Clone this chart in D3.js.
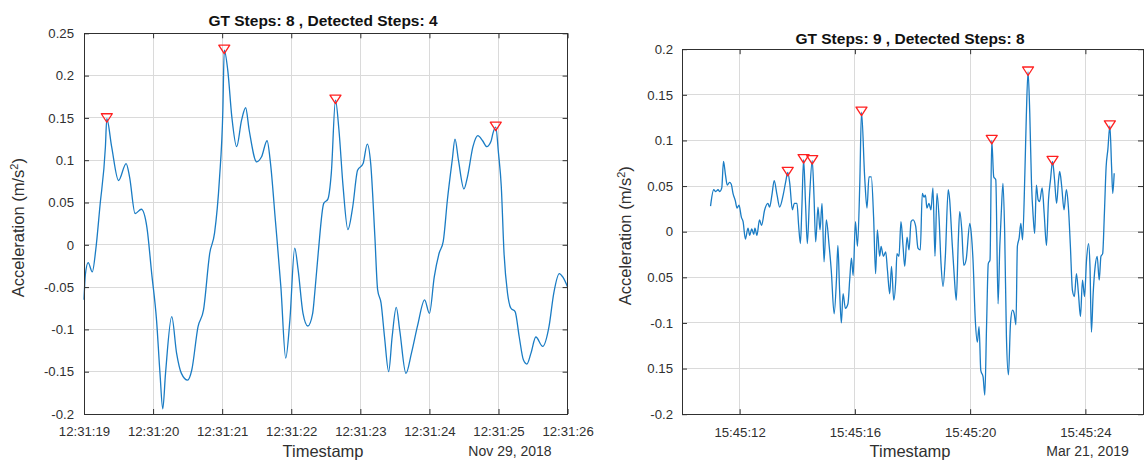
<!DOCTYPE html>
<html>
<head>
<meta charset="utf-8">
<script src="https://cdn.jsdelivr.net/npm/d3@7"></script>
<style>
  html, body { margin: 0; padding: 0; background: #ffffff; }
  svg { display: block; }
  text { font-family: "Liberation Sans", Arial, Helvetica, sans-serif; }
</style>
</head>
<body>
<svg id="chart" width="1144" height="461"></svg>
<script>
// ---- Walk 1 (Nov 29, 2018, 12:31:xx) : seconds within the minute, acceleration ----
const leftSeconds = [
  19.00, 19.02, 19.06, 19.12, 19.17, 19.23, 19.31, 19.33, 19.40, 19.50,
  19.61, 19.66, 19.74, 19.83, 19.91, 19.98, 20.05, 20.10, 20.14, 20.18,
  20.27, 20.34, 20.41, 20.50, 20.56, 20.65, 20.73, 20.82, 20.89, 20.96,
  21.01, 21.03, 21.08, 21.14, 21.21, 21.28, 21.34, 21.39, 21.50, 21.57,
  21.65, 21.70, 21.77, 21.85, 21.92, 21.98, 22.05, 22.10, 22.17, 22.24,
  22.31, 22.34, 22.39, 22.47, 22.53, 22.58, 22.64, 22.69, 22.75, 22.82,
  22.89, 22.96, 23.04, 23.10, 23.15, 23.21, 23.25, 23.30, 23.35, 23.41,
  23.46, 23.52, 23.57, 23.66, 23.74, 23.83, 23.93, 24.00, 24.07, 24.14,
  24.20, 24.26, 24.33, 24.37, 24.42, 24.50, 24.55, 24.63, 24.70, 24.77,
  24.83, 24.89, 24.92, 24.96, 25.00, 25.04, 25.08, 25.13, 25.18, 25.24,
  25.30, 25.36, 25.41, 25.47, 25.54, 25.64, 25.73, 25.80, 25.88, 25.93,
  26.00
];
const leftAccel = [
  -0.065, -0.035, -0.021, -0.032, -0.006, 0.045, 0.116, 0.149, 0.116, 0.076,
  0.096, 0.080, 0.037, 0.042, 0.021, -0.034, -0.089, -0.152, -0.194, -0.152,
  -0.085, -0.128, -0.152, -0.160, -0.148, -0.097, -0.077, -0.010, 0.014, 0.077,
  0.159, 0.230, 0.207, 0.151, 0.116, 0.147, 0.162, 0.136, 0.098, 0.104,
  0.123, 0.096, 0.029, -0.050, -0.134, -0.089, -0.004, -0.030, -0.081, -0.096,
  -0.081, -0.057, -0.010, 0.049, 0.054, 0.085, 0.171, 0.136, 0.069, 0.018,
  0.045, 0.088, 0.096, 0.119, 0.096, 0.010, -0.053, -0.069, -0.109, -0.150,
  -0.109, -0.074, -0.101, -0.152, -0.128, -0.095, -0.065, -0.081, -0.038, -0.010,
  0.004, 0.053, 0.100, 0.125, 0.100, 0.066, 0.080, 0.116, 0.129, 0.123,
  0.116, 0.122, 0.132, 0.139, 0.108, 0.069, -0.010, -0.057, -0.075, -0.079,
  -0.109, -0.136, -0.141, -0.128, -0.109, -0.120, -0.097, -0.057, -0.034, -0.038,
  -0.050
];
const leftPeakSeconds = [19.33, 21.03, 22.64, 24.96];

const leftTimeTicks  = [19, 20, 21, 22, 23, 24, 25, 26];
const leftTimeLabels = ["12:31:19", "12:31:20", "12:31:21", "12:31:22", "12:31:23", "12:31:24", "12:31:25", "12:31:26"];
const leftAccelTicks  = [0.25, 0.2, 0.15, 0.1, 0.05, 0, -0.05, -0.1, -0.15, -0.2];
const leftAccelLabels = ["0.25", "0.2", "0.15", "0.1", "0.05", "0", "-0.05", "-0.1", "-0.15", "-0.2"];

// ---- Walk 2 (Mar 21, 2019, 15:45:xx) ----
const rightSeconds = [
  10.99, 11.10, 11.17, 11.25, 11.31, 11.38, 11.44, 11.51, 11.57, 11.65,
  11.71, 11.77, 11.85, 11.91, 11.98, 12.06, 12.12, 12.20, 12.29, 12.35,
  12.42, 12.49, 12.53, 12.60, 12.69, 12.76, 12.87, 12.98, 13.04, 13.12,
  13.20, 13.30, 13.39, 13.51, 13.60, 13.67, 13.74, 13.83, 13.90, 13.99,
  14.05, 14.11, 14.16, 14.22, 14.29, 14.35, 14.43, 14.52, 14.58, 14.64,
  14.72, 14.79, 14.86, 14.93, 15.01, 15.10, 15.18, 15.28, 15.36, 15.41,
  15.47, 15.53, 15.59, 15.67, 15.76, 15.82, 15.88, 15.94, 16.02, 16.09,
  16.17, 16.23, 16.34, 16.42, 16.49, 16.57, 16.65, 16.72, 16.78, 16.86,
  16.91, 16.99, 17.07, 17.13, 17.21, 17.27, 17.35, 17.42, 17.46, 17.53,
  17.60, 17.67, 17.73, 17.81, 17.88, 17.95, 18.02, 18.11, 18.19, 18.27,
  18.34, 18.40, 18.45, 18.50, 18.57, 18.64, 18.71, 18.78, 18.85, 18.92,
  18.99, 19.06, 19.14, 19.24, 19.29, 19.37, 19.45, 19.52, 19.59, 19.64,
  19.71, 19.78, 19.86, 19.99, 20.04, 20.10, 20.18, 20.25, 20.31, 20.37,
  20.45, 20.51, 20.57, 20.63, 20.69, 20.75, 20.82, 20.89, 20.97, 21.03,
  21.08, 21.14, 21.20, 21.26, 21.33, 21.40, 21.47, 21.53, 21.59, 21.64,
  21.70, 21.76, 21.82, 21.90, 21.95, 22.01, 22.07, 22.13, 22.19, 22.24,
  22.30, 22.36, 22.41, 22.50, 22.57, 22.65, 22.72, 22.79, 22.86, 22.93,
  23.00, 23.07, 23.11, 23.18, 23.26, 23.34, 23.41, 23.48, 23.55, 23.62,
  23.69, 23.76, 23.83, 23.90, 23.97, 24.04, 24.11, 24.16, 24.21, 24.27,
  24.34, 24.41, 24.48, 24.54, 24.60, 24.66, 24.72, 24.78, 24.85, 24.91,
  24.95, 25.00
];
const rightAccel = [
  0.028, 0.046, 0.044, 0.046, 0.044, 0.048, 0.077, 0.062, 0.051, 0.054,
  0.052, 0.042, 0.034, 0.026, 0.029, 0.016, 0.011, -0.008, 0.004, -0.004,
  0.003, -0.003, 0.004, -0.004, 0.013, 0.007, 0.024, 0.031, 0.027, 0.040,
  0.056, 0.040, 0.027, 0.040, 0.055, 0.065, 0.053, 0.024, 0.031, 0.031,
  0.006, -0.013, 0.026, 0.079, 0.029, -0.013, 0.040, 0.078, 0.040, -0.011,
  0.027, 0.002, 0.031, -0.033, 0.013, -0.013, -0.042, -0.090, -0.053, -0.015,
  -0.064, -0.100, -0.068, -0.084, -0.079, -0.053, -0.029, -0.048, 0.011, -0.016,
  0.052, 0.131, 0.060, 0.026, 0.060, 0.060, 0.016, -0.046, 0.002, -0.027,
  -0.016, -0.027, -0.022, -0.042, -0.068, -0.038, -0.075, -0.053, -0.024, -0.027,
  0.011, -0.015, -0.038, -0.006, -0.020, 0.011, 0.013, 0.006, -0.018, -0.020,
  0.042, 0.038, 0.040, 0.026, 0.031, 0.024, 0.048, -0.027, 0.042, 0.016,
  -0.035, -0.060, -0.027, 0.046, 0.035, -0.009, -0.049, -0.075, -0.009, 0.022,
  0.002, -0.037, -0.031, 0.009, -0.002, -0.031, -0.097, -0.121, -0.104, -0.152,
  -0.159, -0.179, -0.104, -0.035, -0.031, 0.100, 0.060, 0.057, -0.079, -0.016,
  0.020, 0.053, -0.002, -0.115, -0.157, -0.101, -0.086, -0.090, -0.102, -0.016,
  -0.007, 0.009, -0.009, 0.064, 0.126, 0.175, 0.130, 0.053, 0.016, -0.002,
  0.051, 0.035, 0.033, 0.048, 0.020, -0.015, 0.035, 0.057, 0.077, 0.057,
  0.031, 0.057, 0.066, 0.049, 0.024, 0.046, 0.027, -0.016, -0.064, -0.071,
  -0.046, -0.068, -0.093, -0.053, -0.071, -0.031, -0.013, -0.038, -0.110, -0.068,
  -0.038, -0.027, -0.053, -0.027, -0.024, 0.020, 0.071, 0.090, 0.116, 0.071,
  0.042, 0.064
];
const rightPeakSeconds = [13.67, 14.22, 14.52, 16.23, 20.75, 22.01, 22.86, 24.85];

const rightTimeTicks  = [12, 16, 20, 24];
const rightTimeLabels = ["15:45:12", "15:45:16", "15:45:20", "15:45:24"];
const rightAccelTicks  = [0.2, 0.15, 0.1, 0.05, 0, -0.05, -0.1, -0.15, -0.2];
const rightAccelLabels = ["0.2", "0.15", "0.1", "0.05", "0", "0.05", "-0.1", "0.15", "-0.2"];

const svg = d3.select("#chart");

function drawPanel(cfg) {
  const g = svg.append("g");
  const x = d3.scaleLinear().domain(cfg.xDomain).range([cfg.left, cfg.right]);
  const y = d3.scaleLinear().domain(cfg.yDomain).range([cfg.bottom, cfg.top]);

  // grid
  const grid = g.append("g").attr("stroke", "#dadada").attr("stroke-width", 1)
    .attr("shape-rendering", "crispEdges");
  grid.selectAll(".gx").data(cfg.xTicks).join("line")
    .attr("x1", d => x(d)).attr("x2", d => x(d))
    .attr("y1", cfg.top).attr("y2", cfg.bottom);
  grid.selectAll(".gy").data(cfg.yTicks).join("line")
    .attr("x1", cfg.left).attr("x2", cfg.right)
    .attr("y1", d => y(d)).attr("y2", d => y(d));

  // signal
  const pts = cfg.seconds.map((s, i) => [s, cfg.accel[i]]);
  const line = d3.line().x(d => x(d[0])).y(d => y(d[1])).curve(d3.curveMonotoneX);
  g.append("path").datum(pts)
    .attr("d", line)
    .attr("fill", "none")
    .attr("stroke", "#1a7cc4")
    .attr("stroke-width", 1.3)
    .attr("stroke-linejoin", "round");

  // detected peaks
  const peaks = cfg.peaks.map(s => {
    const i = cfg.seconds.indexOf(s);
    return [s, cfg.accel[i]];
  });
  g.selectAll(".peak").data(peaks).join("path")
    .attr("transform", d => `translate(${x(d[0])},${y(d[1]) - 1})`)
    .attr("d", "M-5.5,-4L5.5,-4L0,4.5Z")
    .attr("fill", "none")
    .attr("stroke", "#ff2020")
    .attr("stroke-width", 1.3)
    .attr("stroke-linejoin", "round");

  // axes (ticks pointing inward on all four sides)
  const tickCol = "#303030";
  const bottom = g.append("g").attr("transform", `translate(0,${cfg.bottom})`)
    .call(d3.axisBottom(x).tickValues(cfg.xTicks).tickFormat((d, i) => cfg.xLabels[i])
      .tickSizeInner(-5).tickSizeOuter(0).tickPadding(13));
  const top = g.append("g").attr("transform", `translate(0,${cfg.top})`)
    .call(d3.axisTop(x).tickValues(cfg.xTicks).tickFormat("")
      .tickSizeInner(-5).tickSizeOuter(0));
  const leftAx = g.append("g").attr("transform", `translate(${cfg.left},0)`)
    .call(d3.axisLeft(y).tickValues(cfg.yTicks).tickFormat((d, i) => cfg.yLabels[i])
      .tickSizeInner(-5).tickSizeOuter(0).tickPadding(cfg.yPad));
  const rightAx = g.append("g").attr("transform", `translate(${cfg.right},0)`)
    .call(d3.axisRight(y).tickValues(cfg.yTicks).tickFormat("")
      .tickSizeInner(-5).tickSizeOuter(0));
  [bottom, top, leftAx, rightAx].forEach(a => {
    a.select(".domain").remove();
    a.selectAll(".tick line").attr("stroke", tickCol);
    a.selectAll("text").attr("fill", tickCol).attr("font-size", 13.2)
      .attr("font-family", "'Liberation Sans', Arial, sans-serif");
  });

  // box
  g.append("rect")
    .attr("x", cfg.left).attr("y", cfg.top)
    .attr("width", cfg.right - cfg.left).attr("height", cfg.bottom - cfg.top)
    .attr("fill", "none").attr("stroke", tickCol).attr("stroke-width", 1)
    .attr("shape-rendering", "crispEdges");

  // title and labels
  g.append("text").attr("x", cfg.titleX).attr("y", cfg.titleY)
    .attr("text-anchor", "middle").attr("font-weight", "bold")
    .attr("font-size", 15.5).attr("fill", "#111").text(cfg.title);
  g.append("text").attr("x", cfg.titleX).attr("y", 457)
    .attr("text-anchor", "middle").attr("font-size", 16.5)
    .attr("fill", tickCol).text("Timestamp");
  g.append("text").attr("x", cfg.dateX).attr("y", 455.5)
    .attr("text-anchor", "middle").attr("font-size", 14)
    .attr("fill", tickCol).text(cfg.date);
  const yl = g.append("text")
    .attr("transform", `translate(${cfg.yLabelX},${(cfg.top + cfg.bottom) / 2 + 4}) rotate(-90)`)
    .attr("text-anchor", "middle").attr("font-size", 16.5)
    .attr("fill", tickCol);
  yl.append("tspan").text("Acceleration (m/s");
  yl.append("tspan").attr("font-size", 11).attr("dy", -6).text("2");
  yl.append("tspan").attr("dy", 6).text(")");
}

drawPanel({
  left: 84, right: 567.6, top: 33.3, bottom: 414,
  xDomain: [19, 26], yDomain: [-0.2, 0.25],
  seconds: leftSeconds, accel: leftAccel, peaks: leftPeakSeconds,
  xTicks: leftTimeTicks, xLabels: leftTimeLabels,
  yTicks: leftAccelTicks, yLabels: leftAccelLabels, yPad: 10,
  title: "GT Steps: 8 , Detected Steps: 4", titleX: 323, titleY: 25.5,
  date: "Nov 29, 2018", dateX: 510, yLabelX: 24
});

drawPanel({
  left: 682, right: 1143, top: 49.2, bottom: 414.2,
  xDomain: [10, 26], yDomain: [-0.2, 0.2],
  seconds: rightSeconds, accel: rightAccel, peaks: rightPeakSeconds,
  xTicks: rightTimeTicks, xLabels: rightTimeLabels,
  yTicks: rightAccelTicks, yLabels: rightAccelLabels, yPad: 9,
  title: "GT Steps: 9 , Detected Steps: 8", titleX: 910, titleY: 43.5,
  date: "Mar 21, 2019", dateX: 1087.5, yLabelX: 631
});
</script>
</body>
</html>
